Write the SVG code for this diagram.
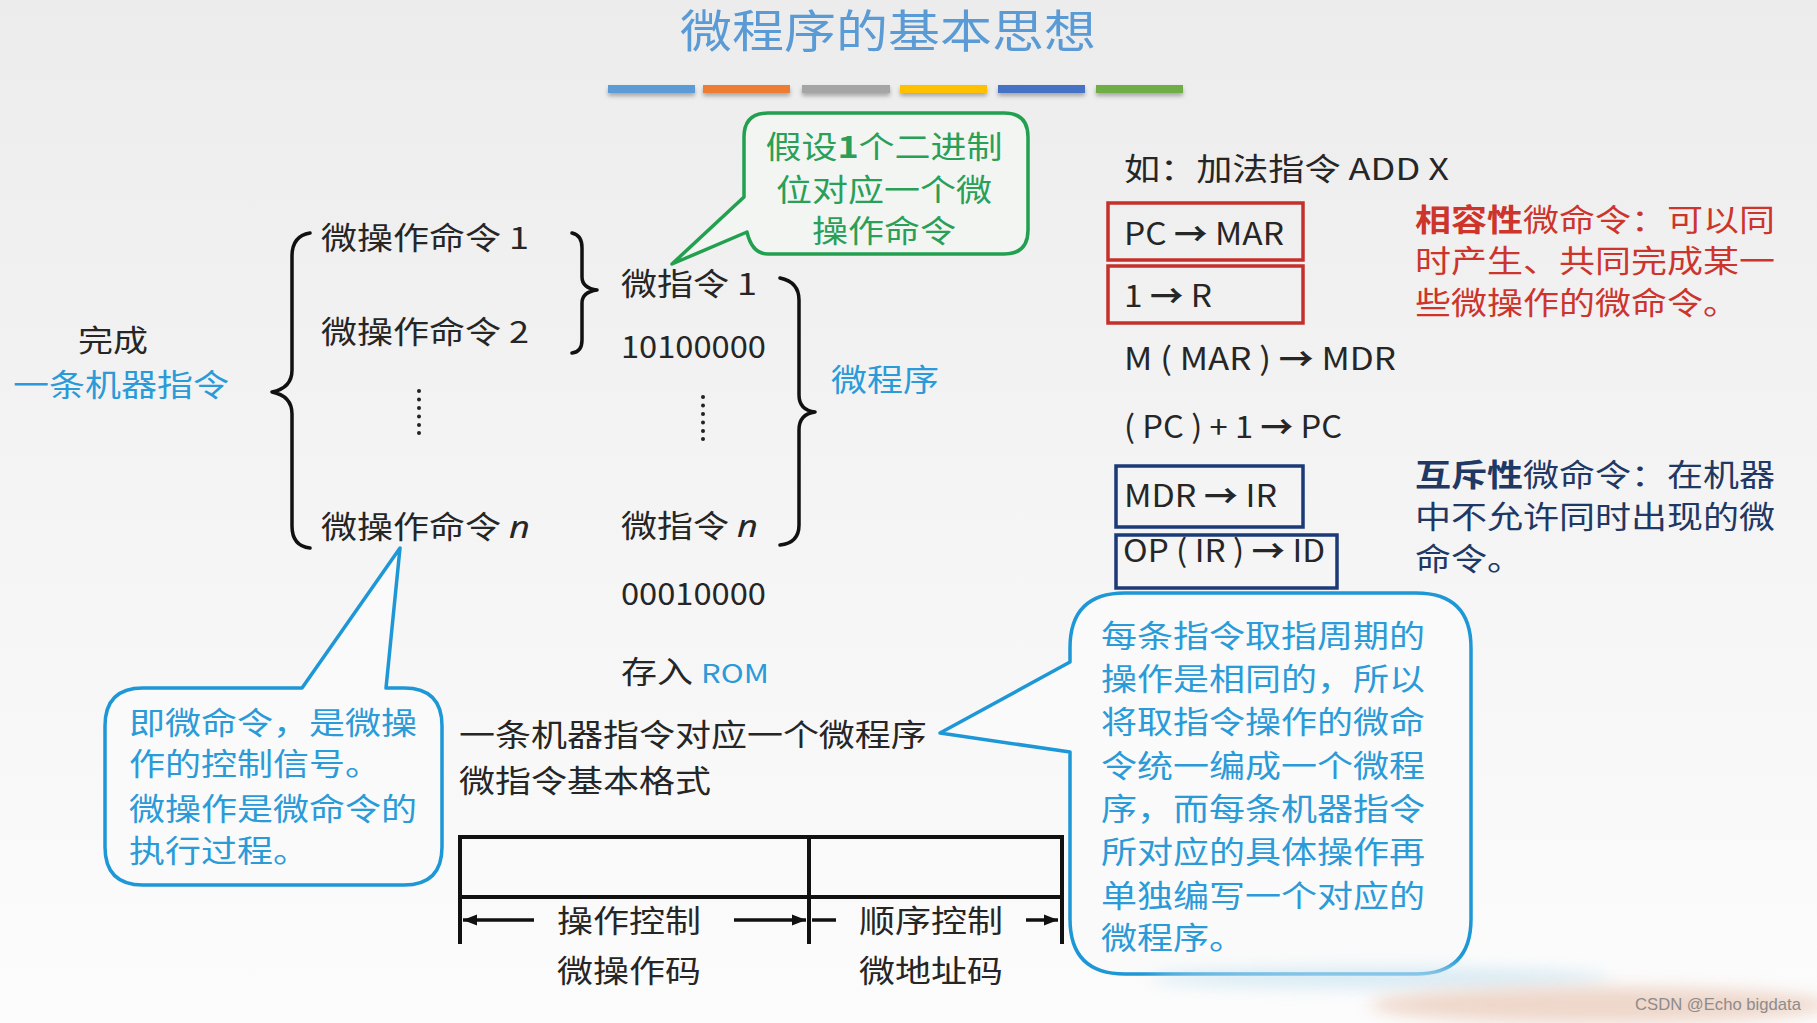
<svg xmlns="http://www.w3.org/2000/svg" width="1817" height="1023" viewBox="0 0 1817 1023">
<defs>
  <linearGradient id="bg" x1="0" y1="0" x2="0" y2="1">
    <stop offset="0" stop-color="#ECECEC"/>
    <stop offset="0.55" stop-color="#F5F5F5"/>
    <stop offset="1" stop-color="#FCFCFC"/>
  </linearGradient>
  <filter id="sh" x="-10%" y="-50%" width="120%" height="250%">
    <feDropShadow dx="0" dy="3" stdDeviation="2" flood-color="#000" flood-opacity="0.3"/>
  </filter>
  <filter id="blur" x="-20%" y="-200%" width="140%" height="500%">
    <feGaussianBlur stdDeviation="8"/>
  </filter>
  <marker id="ah" viewBox="0 0 10 10" refX="10" refY="5" markerWidth="4" markerHeight="4" orient="auto-start-reverse" markerUnits="strokeWidth">
    <path d="M0,1 L10,5 L0,9 Z" fill="#111"/>
  </marker>
  <style>
    .t{font-family:"Noto Sans CJK SC","Noto Sans",sans-serif;font-size:36px;fill:#262626}
    .sq{transform-box:fill-box;transform-origin:0 55%;transform:scaleY(0.84)}
    .mid{transform-origin:50% 55%}
    .lat{font-size:31px}
    .blue{fill:#2A9BD8}
    .green{fill:#2A9F58}
    .red{fill:#CD352C}
    .navy{fill:#1F3864}
    .b{font-weight:bold}
    .it{font-style:italic;font-family:"Noto Sans","Liberation Sans",sans-serif}
    .brace{stroke:#111;stroke-width:3.5;fill:none;stroke-linecap:round;stroke-linejoin:round}
    .ln{stroke:#111;stroke-width:4;fill:none}
    .arr{stroke:#111;stroke-width:3.5;fill:none}
    .callB{fill:#FAFAFA;stroke:#1E97D6;stroke-width:3.5;stroke-linejoin:round}
    .callG{fill:#F3F5F3;stroke:#22A050;stroke-width:3.5;stroke-linejoin:round}
    .boxR{fill:none;stroke:#C4302B;stroke-width:3.5}
    .boxN{fill:none;stroke:#1B3A78;stroke-width:3.5}
  </style>
</defs>

<rect x="0" y="0" width="1817" height="1023" fill="url(#bg)"/>

<g id="title">
  <text class="t sq mid" x="888" y="50" text-anchor="middle" style="font-size:52px;fill:#5B9BD5;transform:scaleY(0.88)">微程序的基本思想</text>
  <g filter="url(#sh)">
    <rect x="608" y="85" width="87" height="8" fill="#5B9BD5"/>
    <rect x="703" y="85" width="87" height="8" fill="#ED7D31"/>
    <rect x="802" y="85" width="88" height="8" fill="#A5A5A5"/>
    <rect x="900" y="85" width="87" height="8" fill="#FFC000"/>
    <rect x="998" y="85" width="87" height="8" fill="#4472C4"/>
    <rect x="1096" y="85" width="87" height="8" fill="#70AD47"/>
  </g>
</g>

<g id="connectors">
  <path class="brace" d="M310,233 Q292,236 292,256 L292,370 Q292,388 272,392 Q292,396 292,414 L292,526 Q292,546 310,548"/>
  <path class="brace" d="M572,233 Q582,235 582,248 L582,277 Q582,288 597,290 Q582,292 582,303 L582,340 Q582,352 572,353"/>
  <path class="brace" d="M780,278 Q799,282 799,300 L799,395 Q799,410 815,412 Q799,414 799,430 L799,525 Q799,543 780,545"/>
</g>

<g id="machine-instr">
  <text class="t sq" x="78" y="353" style="font-size:35px">完成</text>
  <text class="t sq blue" x="13" y="398">一条机器指令</text>
</g>

<g id="micro-ops">
  <text class="t sq" x="321" y="251">微操作命令 1</text>
  <text class="t sq" x="321" y="345">微操作命令 2</text>
  <g fill="#222">
    <circle cx="419" cy="391" r="2"/><circle cx="419" cy="399.5" r="2"/><circle cx="419" cy="408" r="2"/>
    <circle cx="419" cy="416.5" r="2"/><circle cx="419" cy="425" r="2"/><circle cx="419" cy="433" r="2"/>
  </g>
  <text class="t sq" x="321" y="540">微操作命令 <tspan class="it">n</tspan></text>
</g>

<g id="micro-instrs">
  <text class="t sq" x="621" y="297">微指令 1</text>
  <text class="t lat" x="621" y="358" textLength="145" lengthAdjust="spacingAndGlyphs">10100000</text>
  <g fill="#222">
    <circle cx="703" cy="397" r="2"/><circle cx="703" cy="405.5" r="2"/><circle cx="703" cy="414" r="2"/>
    <circle cx="703" cy="422.5" r="2"/><circle cx="703" cy="431" r="2"/><circle cx="703" cy="439" r="2"/>
  </g>
  <text class="t sq" x="621" y="539">微指令 <tspan class="it">n</tspan></text>
  <text class="t lat" x="621" y="605" textLength="145" lengthAdjust="spacingAndGlyphs">00010000</text>
  <text class="t sq" x="621" y="685">存入 <tspan class="blue lat">ROM</tspan></text>
</g>

<g id="microprogram">
  <text class="t sq blue" x="831" y="393">微程序</text>
</g>

<g id="callout-green">
  <path class="callG" d="M768,113 L1004,113 Q1028,113 1028,137 L1028,230 Q1028,254 1004,254 L768,254 Q752,254 747,232 L672,264 L744,197 L744,137 Q744,113 768,113 Z"/>
  <text class="t sq mid green" x="884" y="160" text-anchor="middle">假设<tspan class="b">1</tspan>个二进制</text>
  <text class="t sq mid green" x="884" y="203" text-anchor="middle">位对应一个微</text>
  <text class="t sq mid green" x="884" y="244" text-anchor="middle">操作命令</text>
</g>

<g id="callout-left">
  <path class="callB" d="M143,688 L302,688 L400,548 L386,688 L404,688 Q442,688 442,726 L442,847 Q442,885 404,885 L143,885 Q105,885 105,847 L105,726 Q105,688 143,688 Z"/>
  <text class="t sq blue" x="129" y="736">即微命令，是微操</text>
  <text class="t sq blue" x="129" y="777">作的控制信号。</text>
  <text class="t sq blue" x="129" y="822">微操作是微命令的</text>
  <text class="t sq blue" x="129" y="864">执行过程。</text>
</g>

<g id="format">
  <text class="t sq" x="459" y="748">一条机器指令对应一个微程序</text>
  <text class="t sq" x="459" y="794">微指令基本格式</text>
  <path class="ln" d="M460,837 L1062,837 M460,897 L1062,897 M460,835 L460,944 M809,835 L809,944 M1062,835 L1062,944"/>
  <line class="arr" x1="534" y1="920" x2="463" y2="920" marker-end="url(#ah)"/>
  <line class="arr" x1="734" y1="920" x2="806" y2="920" marker-end="url(#ah)"/>
  <line class="arr" x1="836" y1="920" x2="812" y2="920"/>
  <line class="arr" x1="1026" y1="920" x2="1058" y2="920" marker-end="url(#ah)"/>
  <text class="t sq mid" x="629" y="934" text-anchor="middle">操作控制</text>
  <text class="t sq mid" x="629" y="984" text-anchor="middle">微操作码</text>
  <text class="t sq mid" x="931" y="934" text-anchor="middle">顺序控制</text>
  <text class="t sq mid" x="931" y="984" text-anchor="middle">微地址码</text>
</g>

<g id="example">
  <text class="t sq" x="1124" y="182" textLength="325" lengthAdjust="spacingAndGlyphs">如：加法指令 ADD X</text>
  <rect class="boxR" x="1108" y="203" width="195" height="57"/>
  <rect class="boxR" x="1108" y="266" width="195" height="57"/>
  <text class="t lat" x="1124" y="245" textLength="160" lengthAdjust="spacingAndGlyphs">PC <tspan class="b">→</tspan> MAR</text>
  <text class="t lat" x="1124" y="307" textLength="88" lengthAdjust="spacingAndGlyphs">1 <tspan class="b">→</tspan> R</text>
  <text class="t lat" x="1124" y="370" textLength="272" lengthAdjust="spacingAndGlyphs">M ( MAR ) <tspan class="b">→</tspan> MDR</text>
  <text class="t lat" x="1124" y="438" textLength="218" lengthAdjust="spacingAndGlyphs">( PC ) + 1 <tspan class="b">→</tspan> PC</text>
  <rect class="boxN" x="1116" y="466" width="187" height="61"/>
  <rect class="boxN" x="1116" y="535" width="221" height="53"/>
  <text class="t lat" x="1124" y="507" textLength="153" lengthAdjust="spacingAndGlyphs">MDR <tspan class="b">→</tspan> IR</text>
  <text class="t lat" x="1123" y="562" textLength="202" lengthAdjust="spacingAndGlyphs">OP ( IR ) <tspan class="b">→</tspan> ID</text>
</g>

<g id="compatible">
  <text class="t sq red" x="1415" y="233"><tspan class="b">相容性</tspan>微命令：可以同</text>
  <text class="t sq red" x="1415" y="274">时产生、共同完成某一</text>
  <text class="t sq red" x="1415" y="316">些微操作的微命令。</text>
</g>

<g id="exclusive">
  <text class="t sq navy" x="1415" y="488"><tspan class="b">互斥性</tspan>微命令：在机器</text>
  <text class="t sq navy" x="1415" y="530">中不允许同时出现的微</text>
  <text class="t sq navy" x="1415" y="572">命令。</text>
</g>

<g id="callout-right">
  <path class="callB" d="M1125,593 L1416,593 Q1471,593 1471,648 L1471,919 Q1471,974 1416,974 L1125,974 Q1070,974 1070,919 L1070,752 L940,733 L1070,662 L1070,648 Q1070,593 1125,593 Z"/>
  <text class="t sq blue" x="1101" y="649">每条指令取指周期的</text>
  <text class="t sq blue" x="1101" y="692">操作是相同的，所以</text>
  <text class="t sq blue" x="1101" y="735">将取指令操作的微命</text>
  <text class="t sq blue" x="1101" y="779">令统一编成一个微程</text>
  <text class="t sq blue" x="1101" y="822">序，而每条机器指令</text>
  <text class="t sq blue" x="1101" y="865">所对应的具体操作再</text>
  <text class="t sq blue" x="1101" y="909">单独编写一个对应的</text>
  <text class="t sq blue" x="1101" y="951">微程序。</text>
</g>

<g id="watermark">
  <ellipse cx="1380" cy="978" rx="230" ry="10" fill="#CDE6F3" filter="url(#blur)" opacity="0.8"/>
  <ellipse cx="1600" cy="1005" rx="230" ry="18" fill="#E9C7B5" filter="url(#blur)" opacity="0.7"/>
  <text x="1635" y="1010" style="font-family:'Liberation Sans',sans-serif;font-size:17px;fill:#8C8C8C" textLength="166" lengthAdjust="spacingAndGlyphs">CSDN @Echo bigdata</text>
</g>
</svg>
